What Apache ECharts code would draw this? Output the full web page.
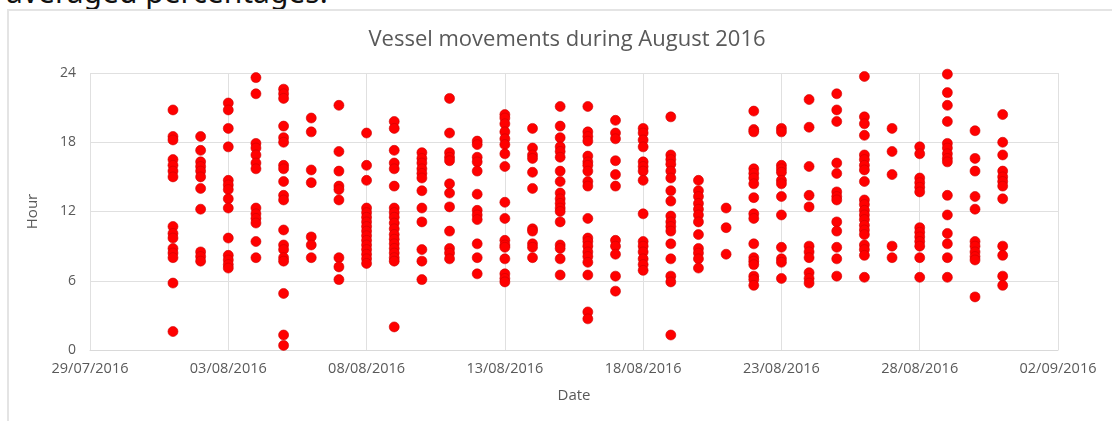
<!DOCTYPE html>
<html>
<head>
<meta charset="utf-8">
<script src="https://cdn.jsdelivr.net/npm/echarts@6/dist/echarts.min.js"></script>
<style>
  body { margin: 0; background: #fff; overflow: hidden; }
  #cut { position: absolute; left: 6px; top: -23px; font: 30px/30px "Noto Sans", sans-serif; color: #111; white-space: nowrap; }
  #frame { position: absolute; left: 7px; top: 9px; width: 1200px; height: 500px; border-left: 2px solid #e4e4e4; border-top: 2px solid #e4e4e4; }
  #MyChart { position: absolute; left: 0; top: 0; width: 1112px; height: 421px; }
</style>
</head>
<body>
<div id="cut">averaged percentages.</div>
<div id="frame"></div>
<div id="MyChart"></div>
<script>
// 日期 (每天一列)
const days = [
  '01/08/2016', '02/08/2016', '03/08/2016', '04/08/2016', '05/08/2016', '06/08/2016',
  '07/08/2016', '08/08/2016', '09/08/2016', '10/08/2016', '11/08/2016', '12/08/2016',
  '13/08/2016', '14/08/2016', '15/08/2016', '16/08/2016', '17/08/2016', '18/08/2016',
  '19/08/2016', '20/08/2016', '21/08/2016', '22/08/2016', '23/08/2016', '24/08/2016',
  '25/08/2016', '26/08/2016', '27/08/2016', '28/08/2016', '29/08/2016', '30/08/2016',
  '31/08/2016'
]
// 每天的船舶移动时刻 (小时)
const hours = [
  [20.8, 18.5, 18.2, 16.5, 16.0, 15.5, 15.0, 10.7, 10.1, 9.7, 8.8, 8.4, 8.0, 5.8, 1.6],
  [18.5, 17.3, 16.3, 15.9, 15.5, 15.0, 14.0, 12.2, 8.5, 8.1, 7.7],
  [21.4, 20.8, 19.2, 17.6, 14.7, 14.3, 13.9, 13.1, 12.3, 9.7, 8.2, 7.8, 7.4, 7.1],
  [23.6, 22.2, 17.9, 17.5, 16.9, 16.2, 15.7, 12.3, 11.8, 11.4, 11.0, 9.4, 8.0],
  [22.6, 22.2, 21.8, 19.4, 18.4, 18.0, 16.0, 15.7, 14.6, 13.4, 13.0, 10.4, 9.1, 8.7, 8.0, 7.7, 4.9, 1.3, 0.4],
  [20.1, 18.9, 15.6, 14.5, 9.8, 9.1, 8.0],
  [21.2, 17.2, 15.5, 14.2, 13.9, 13.0, 8.0, 7.2, 6.1],
  [18.8, 16.0, 14.7, 12.3, 11.9, 11.5, 11.1, 10.7, 10.3, 9.9, 9.5, 9.1, 8.7, 8.3, 7.9, 7.5],
  [19.8, 19.2, 17.3, 16.2, 15.7, 14.2, 12.3, 11.9, 11.5, 11.0, 10.5, 10.0, 9.6, 9.2, 8.8, 8.4, 8.0, 7.7, 2.0],
  [17.1, 16.6, 16.2, 15.7, 15.3, 14.9, 13.8, 12.3, 11.1, 8.7, 7.7, 6.1],
  [21.8, 18.8, 17.1, 16.7, 16.4, 14.4, 13.6, 12.4, 10.3, 8.8, 8.4, 7.9],
  [18.1, 17.8, 16.7, 16.3, 15.5, 13.5, 12.1, 11.7, 11.3, 9.2, 8.0, 6.6],
  [20.4, 20.1, 19.6, 18.9, 18.3, 17.8, 17.0, 15.9, 12.8, 11.4, 9.5, 9.1, 8.9, 7.9, 6.6, 6.2, 5.9],
  [19.2, 17.5, 16.9, 16.6, 15.4, 14.0, 10.5, 10.3, 9.2, 8.9, 8.0],
  [21.1, 19.4, 18.4, 17.6, 17.2, 16.7, 15.5, 14.6, 13.6, 13.1, 12.7, 12.3, 12.0, 11.1, 9.1, 8.8, 7.9, 6.5],
  [21.1, 18.9, 18.5, 18.1, 16.8, 16.3, 16.0, 15.5, 14.6, 14.2, 11.4, 9.7, 9.4, 9.0, 8.5, 8.1, 7.6, 6.5, 3.3, 2.7],
  [19.9, 18.8, 18.3, 16.4, 15.2, 14.2, 9.5, 9.0, 8.3, 6.4, 5.1],
  [19.2, 18.8, 18.2, 17.6, 16.3, 15.9, 15.5, 14.7, 11.8, 9.4, 9.0, 8.5, 7.9, 7.4, 6.9],
  [20.2, 16.9, 16.5, 16.1, 15.5, 14.9, 13.8, 12.9, 11.6, 11.1, 10.7, 10.3, 9.2, 7.9, 6.4, 5.9, 1.3],
  [14.7, 13.8, 13.3, 12.7, 12.2, 11.7, 11.1, 10.0, 8.8, 8.4, 7.9, 7.1],
  [12.3, 10.6, 8.3],
  [20.7, 19.1, 18.9, 15.7, 15.3, 14.9, 14.4, 13.2, 11.8, 11.4, 9.2, 8.0, 7.7, 7.4, 6.4, 6.1, 5.6],
  [19.2, 18.9, 16.0, 15.7, 15.4, 14.7, 14.4, 13.3, 11.7, 8.9, 7.9, 7.6, 6.2],
  [21.7, 19.3, 15.9, 13.4, 12.4, 9.0, 8.5, 8.0, 6.7, 6.2, 5.8],
  [22.2, 20.8, 19.8, 16.2, 15.3, 13.7, 13.3, 13.0, 11.1, 10.3, 8.9, 7.9, 6.4],
  [23.7, 20.2, 19.6, 18.6, 16.9, 16.5, 16.0, 15.6, 14.6, 13.0, 12.6, 12.1, 11.7, 11.3, 10.8, 10.4, 10.0, 9.1, 8.7, 8.2, 6.3],
  [19.2, 17.2, 15.2, 9.0, 8.0],
  [17.6, 17.0, 14.9, 14.5, 14.1, 13.7, 10.6, 10.2, 9.8, 9.4, 9.0, 8.0, 6.3],
  [23.9, 22.3, 21.2, 19.8, 17.9, 17.5, 17.0, 16.6, 16.3, 13.4, 11.7, 10.1, 9.2, 8.0, 6.3],
  [19.0, 16.6, 15.5, 13.3, 12.2, 9.4, 9.0, 8.5, 8.1, 7.8, 4.6],
  [20.4, 18.0, 16.9, 15.5, 15.0, 14.6, 14.2, 13.1, 9.0, 8.2, 6.4, 5.6]
]
// 横轴起点 29/07/2016, 每5天一个刻度
const startDate = '29/07/2016'
const yTicks = [0, 6, 12, 18, 24]

function parseDay(s) {
  let p = s.split('/')
  return Date.UTC(+p[2], +p[1] - 1, +p[0])
}
function dayLabel(offset) {
  let d = new Date(parseDay(startDate) + offset * 86400000)
  let dd = String(d.getUTCDate()).padStart(2, '0')
  let mm = String(d.getUTCMonth() + 1).padStart(2, '0')
  return dd + '/' + mm + '/' + d.getUTCFullYear()
}

let points = []
for (let i = 0; i < days.length; i++) {
  let x = (parseDay(days[i]) - parseDay(startDate)) / 86400000
  for (let j = 0; j < hours[i].length; j++) {
    points.push([x, hours[i][j]])
  }
}

let myChart = echarts.init(document.getElementById('MyChart'))
let font = '"Open Sans", sans-serif'
let option = {
  animation: false,
  title: {
    text: 'Vessel movements during August 2016',
    left: 562,
    top: 24,
    textAlign: 'center',
    textStyle: { color: '#595959', fontSize: 22, fontWeight: 'normal', fontFamily: font }
  },
  grid: { left: 90, right: 54, top: 73, bottom: 71 },
  xAxis: {
    type: 'value',
    min: 0,
    max: 35,
    interval: 5,
    name: 'Date',
    nameLocation: 'middle',
    nameGap: 38,
    nameTextStyle: { color: '#595959', fontSize: 15, fontFamily: font },
    axisLine: { lineStyle: { color: '#d9d9d9' } },
    axisTick: { show: false },
    axisLabel: { color: '#595959', fontSize: 14.5, fontFamily: font, margin: 11, formatter: v => dayLabel(v) },
    splitLine: { show: true, lineStyle: { color: '#e0e0e0' } }
  },
  yAxis: {
    type: 'value',
    min: yTicks[0],
    max: yTicks[yTicks.length - 1],
    interval: 6,
    name: 'Hour',
    nameLocation: 'middle',
    nameGap: 50,
    nameTextStyle: { color: '#595959', fontSize: 15, fontFamily: font },
    axisLine: { show: false },
    axisTick: { show: false },
    axisLabel: { color: '#595959', fontSize: 14, fontFamily: font, margin: 14 },
    splitLine: { show: true, lineStyle: { color: '#e0e0e0' } }
  },
  series: [
    {
      type: 'scatter',
      data: points,
      symbolSize: 10,
      itemStyle: { color: '#ff0000', opacity: 1, borderColor: '#cc0000', borderWidth: 0.6 }
    }
  ]
}
myChart.setOption(option)
</script>
</body>
</html>
